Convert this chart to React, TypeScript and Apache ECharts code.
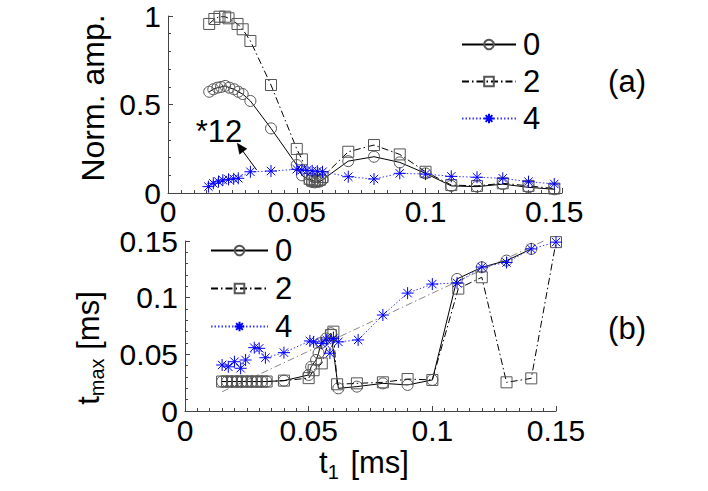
import React, { useEffect, useRef } from "react";
import * as echarts from "echarts";

const FONT = '"Liberation Sans", Arial, Helvetica, sans-serif';

// ---- panel (a): normalized amplitude ----
const a0X = [0.016, 0.0176, 0.0192, 0.0206, 0.0222, 0.0238, 0.0257, 0.0273, 0.029, 0.032, 0.04, 0.05, 0.052, 0.055, 0.056, 0.057, 0.058, 0.059, 0.06, 0.07, 0.08, 0.09, 0.1, 0.11, 0.12, 0.13, 0.14, 0.15];
const a0Y = [0.572, 0.586, 0.595, 0.599, 0.605, 0.595, 0.586, 0.572, 0.559, 0.52, 0.365, 0.158, 0.1, 0.07, 0.062, 0.06, 0.062, 0.065, 0.075, 0.18, 0.205, 0.173, 0.111, 0.04, 0.036, 0.05, 0.032, 0.021];

const a2X = [0.016, 0.018, 0.02, 0.0222, 0.0235, 0.027, 0.029, 0.032, 0.04, 0.05, 0.052, 0.055, 0.056, 0.057, 0.058, 0.059, 0.06, 0.07, 0.08, 0.09, 0.1, 0.11, 0.12, 0.13, 0.14, 0.15];
const a2Y = [0.955, 0.983, 0.996, 0.996, 0.987, 0.955, 0.925, 0.859, 0.61, 0.249, 0.19, 0.08, 0.07, 0.068, 0.07, 0.075, 0.09, 0.233, 0.271, 0.218, 0.12, 0.045, 0.04, 0.055, 0.04, 0.025];

const a4X = [0.0157, 0.0176, 0.0196, 0.0213, 0.0235, 0.0255, 0.0273, 0.032, 0.04, 0.05, 0.052, 0.054, 0.056, 0.058, 0.06, 0.07, 0.08, 0.09, 0.1, 0.11, 0.12, 0.13, 0.14, 0.15];
const a4Y = [0.036, 0.055, 0.064, 0.073, 0.077, 0.08, 0.083, 0.12, 0.124, 0.134, 0.13, 0.128, 0.125, 0.123, 0.12, 0.092, 0.079, 0.111, 0.107, 0.094, 0.089, 0.083, 0.064, 0.051];

// ---- panel (b): t_max versus t_1 ----
const b0X = [0.015, 0.017, 0.019, 0.021, 0.023, 0.025, 0.027, 0.029, 0.031, 0.033, 0.04, 0.05, 0.051, 0.053, 0.054, 0.055, 0.057, 0.059, 0.062, 0.0695, 0.08, 0.09, 0.1, 0.11, 0.12, 0.13, 0.14];
const b0Y = [0.026, 0.026, 0.026, 0.026, 0.026, 0.026, 0.026, 0.026, 0.026, 0.026, 0.0268, 0.0318, 0.039, 0.045, 0.051, 0.06, 0.064, 0.0686, 0.02, 0.0215, 0.0244, 0.023, 0.0274, 0.1165, 0.1268, 0.1327, 0.143];

const b2X = [0.015, 0.017, 0.019, 0.021, 0.023, 0.025, 0.027, 0.029, 0.031, 0.033, 0.04, 0.05, 0.052, 0.0553, 0.059, 0.06, 0.0615, 0.0695, 0.08, 0.09, 0.1, 0.1105, 0.12, 0.13, 0.14, 0.15];
const b2Y = [0.026, 0.026, 0.026, 0.026, 0.026, 0.026, 0.026, 0.026, 0.026, 0.026, 0.0268, 0.029, 0.036, 0.042, 0.067, 0.07, 0.0236, 0.0244, 0.0253, 0.0282, 0.0274, 0.108, 0.118, 0.0253, 0.0288, 0.149];

const b4X = [0.015, 0.0175, 0.02, 0.0225, 0.0245, 0.028, 0.03, 0.0325, 0.04, 0.0505, 0.052, 0.0553, 0.0573, 0.0586, 0.06, 0.062, 0.07, 0.08, 0.09, 0.1, 0.11, 0.12, 0.13, 0.14, 0.15];
const b4Y = [0.0406, 0.039, 0.0435, 0.0377, 0.045, 0.0559, 0.0553, 0.047, 0.0515, 0.0618, 0.061, 0.0597, 0.0627, 0.051, 0.064, 0.061, 0.0627, 0.0847, 0.104, 0.112, 0.113, 0.127, 0.131, 0.143, 0.149];

// reference line in panel (b)
const diagX = [0.015, 0.146];
const diagY = [0.017, 0.151];

const seriesNames = ["0", "2", "4"];
const xTicksInterval = 0.05;

const pairs = (xs: number[], ys: number[]) => xs.map((x, i) => [x, ys[i]]);

const STAR = "path://M0,-6L0,6M-6,0L6,0M-4.2,-4.2L4.2,4.2M-4.2,4.2L4.2,-4.2";

const DASHDOT = [7, 3, 1.5, 3];

const styles = [
  {
    symbol: "circle",
    symbolSize: 11,
    itemStyle: { color: "transparent", borderColor: "#555", borderWidth: 1 },
    lineStyle: { color: "#000", width: 1, type: "solid" as any },
  },
  {
    symbol: "rect",
    symbolSize: 11,
    itemStyle: { color: "transparent", borderColor: "#555", borderWidth: 1 },
    lineStyle: { color: "#000", width: 1, type: DASHDOT as any },
  },
  {
    symbol: STAR,
    symbolSize: 12,
    itemStyle: { color: "#0000ff", borderColor: "#0000ff", borderWidth: 1 },
    lineStyle: { color: "#3a3aff", width: 1, type: [1.5, 2] as any },
  },
];

const axisCommon = {
  axisLine: { show: true, lineStyle: { color: "#444", width: 1 } },
  axisTick: { show: true, inside: true, length: 5, lineStyle: { color: "#444" } },
  minorTick: { show: true, length: 3, lineStyle: { color: "#444" } },
  splitLine: { show: false },
};

const FS = 31;
const labelCommon = { color: "#000", fontSize: FS, fontFamily: FONT };
const tickLabel = { color: "#000", fontSize: 30, fontFamily: FONT, lineHeight: 24 };

export default function App() {
  const ref = useRef<HTMLDivElement>(null);

  useEffect(() => {
    if (!ref.current) return;
    const chart = echarts.init(ref.current, null, { renderer: "svg" });

    const topData = [pairs(a0X, a0Y), pairs(a2X, a2Y), pairs(a4X, a4Y)];
    const botData = [pairs(b0X, b0Y), pairs(b2X, b2Y), pairs(b4X, b4Y)];

    const series: any[] = [];
    topData.forEach((d, i) => {
      series.push({
        type: "line",
        name: seriesNames[i],
        xAxisIndex: 0,
        yAxisIndex: 0,
        data: d,
        showSymbol: true,
        ...styles[i],
        z: 2 + i,
      });
    });
    series.push({
      type: "line",
      name: "ref",
      xAxisIndex: 1,
      yAxisIndex: 1,
      data: pairs(diagX, diagY),
      symbol: "none",
      silent: true,
      lineStyle: { color: "#888", width: 1, type: DASHDOT },
      z: 1,
    });
    botData.forEach((d, i) => {
      series.push({
        type: "line",
        name: seriesNames[i],
        xAxisIndex: 1,
        yAxisIndex: 1,
        data: d,
        showSymbol: true,
        ...styles[i],
        z: 2 + i,
      });
    });

    const legendCommon = {
      orient: "vertical",
      data: seriesNames,
      selectedMode: false,
      padding: 0,
      itemHeight: 12,
      itemGap: 6,
      textStyle: { ...labelCommon, padding: [0, 0, 0, 2] },
    };

    chart.setOption({
      animation: false,
      backgroundColor: "#fff",
      textStyle: { fontFamily: FONT },
      grid: [
        { left: 168, top: 16, width: 394, height: 177, containLabel: false },
        { left: 185, top: 241, width: 371, height: 170, containLabel: false },
      ],
      xAxis: [
        {
          type: "value",
          gridIndex: 0,
          min: 0,
          max: 0.153,
          interval: xTicksInterval,
          minorTick: { ...axisCommon.minorTick, splitNumber: 10 },
          axisLine: axisCommon.axisLine,
          axisTick: axisCommon.axisTick,
          splitLine: axisCommon.splitLine,
          axisLabel: { ...tickLabel, margin: 6, showMaxLabel: false },
        },
        {
          type: "value",
          gridIndex: 1,
          min: 0,
          max: 0.15,
          interval: xTicksInterval,
          minorTick: { ...axisCommon.minorTick, splitNumber: 10 },
          axisLine: axisCommon.axisLine,
          axisTick: axisCommon.axisTick,
          splitLine: axisCommon.splitLine,
          axisLabel: { ...tickLabel, margin: 7 },
        },
      ],
      yAxis: [
        {
          type: "value",
          gridIndex: 0,
          min: 0,
          max: 1,
          interval: 0.5,
          minorTick: { ...axisCommon.minorTick, splitNumber: 5 },
          axisLine: axisCommon.axisLine,
          axisTick: axisCommon.axisTick,
          splitLine: axisCommon.splitLine,
          axisLabel: { ...tickLabel, margin: 7 },
        },
        {
          type: "value",
          gridIndex: 1,
          min: 0,
          max: 0.15,
          interval: 0.05,
          minorTick: { ...axisCommon.minorTick, splitNumber: 5 },
          axisLine: axisCommon.axisLine,
          axisTick: axisCommon.axisTick,
          splitLine: axisCommon.splitLine,
          axisLabel: { ...tickLabel, margin: 7 },
        },
      ],
      legend: [
        { ...legendCommon, left: 461, top: 29, itemWidth: 54 },
        { ...legendCommon, left: 210, top: 235, itemWidth: 57, itemGap: 7 },
      ],
      series,
      graphic: [
        {
          type: "text",
          x: 93,
          y: 98,
          rotation: Math.PI / 2,
          style: { text: "Norm. amp.", font: `32px ${FONT}`, fill: "#000", align: "center", verticalAlign: "middle" },
        },
        {
          type: "text",
          x: 88,
          y: 348,
          rotation: Math.PI / 2,
          style: {
            text: "t{sub|max} [ms]",
            fontSize: FS,
            fontFamily: FONT,
            fill: "#000",
            align: "center",
            verticalAlign: "middle",
            rich: { sub: { fontSize: 20, fontFamily: FONT, fill: "#000", padding: [18, 0, 0, 0] } },
          },
        },
        {
          type: "text",
          x: 364,
          y: 462,
          style: {
            text: "t{sub|1} [ms]",
            fontSize: FS,
            fontFamily: FONT,
            fill: "#000",
            align: "center",
            verticalAlign: "middle",
            rich: { sub: { fontSize: 20, fontFamily: FONT, fill: "#000", padding: [20, 3, 0, 0] } },
          },
        },
        {
          type: "text",
          x: 627,
          y: 81,
          style: { text: "(a)", font: `${FS}px ${FONT}`, fill: "#000", align: "center", verticalAlign: "middle" },
        },
        {
          type: "text",
          x: 627,
          y: 328,
          style: { text: "(b)", font: `${FS}px ${FONT}`, fill: "#000", align: "center", verticalAlign: "middle" },
        },
        {
          type: "text",
          x: 219,
          y: 131,
          style: { text: "*12", font: `${FS}px ${FONT}`, fill: "#000", align: "center", verticalAlign: "middle" },
        },
        {
          type: "line",
          shape: { x1: 256.7, y1: 170, x2: 242, y2: 150 },
          style: { stroke: "#000", lineWidth: 1 },
        },
        {
          type: "polygon",
          shape: { points: [[237.3, 143.3], [246.8, 148.8], [243.2, 151.4], [239.6, 154.2]] },
          style: { fill: "#000", stroke: "#000", lineWidth: 0.5 },
        },
      ],
    });

    return () => chart.dispose();
  }, []);

  return (
    <div
      ref={ref}
      style={{ position: "absolute", left: 0, top: 0, width: 708, height: 491, background: "#fff" }}
    />
  );
}
